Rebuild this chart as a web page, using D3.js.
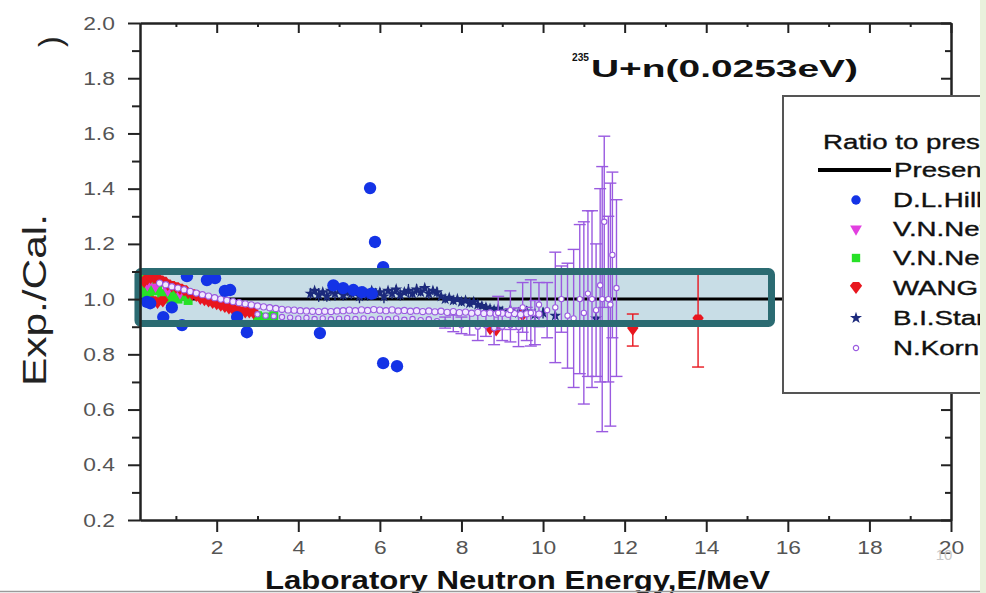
<!DOCTYPE html>
<html>
<head>
<meta charset="utf-8">
<script src="https://cdn.jsdelivr.net/npm/d3@7"></script>
<style>
  body { margin: 0; background: #fff; }
  svg { display: block; font-family: "Liberation Sans", Arial, sans-serif; }
</style>
</head>
<body>
<div class="chart-container"></div>
<script>
// ---- data ----
const xMajor = [2, 4, 6, 8, 10, 12, 14, 16, 18, 20];
const xMinor = [1, 3, 5, 7, 9, 11, 13, 15, 17, 19];
const yMajor = [0.2, 0.4, 0.6, 0.8, 1.0, 1.2, 1.4, 1.6, 1.8, 2.0];
const yMinor = [0.3, 0.5, 0.7, 0.9, 1.1, 1.3, 1.5, 1.7, 1.9];

const legendNames = ["D.L.Hill", "V.N.Nefedov", "V.N.Nesterov", "WANG Fucheng", "B.I.Starostov", "N.Kornilov"];

// Present work (ratio 1)
const presentE = [0.12, 20];
const presentR = [1.0, 1.0];

// D.L.Hill
const hillE = [0.29, 0.37, 0.69, 0.9, 1.15, 1.27, 1.76, 1.96, 2.2, 2.33, 2.5, 2.74, 4.53, 4.86, 5.1, 5.35, 5.56, 5.76, 5.8, 5.88, 6.08, 6.08, 6.42];
const hillR = [0.99, 0.985, 0.935, 0.97, 0.906, 1.083, 1.069, 1.076, 1.03, 1.033, 0.935, 0.88, 0.877, 1.05, 1.04, 1.033, 1.025, 1.402, 1.02, 1.207, 1.116, 0.768, 0.757];

// V.N.Nefedov
const nefE = [0.3, 0.5, 0.8, 1.1, 1.6, 2.2, 2.8];
const nefR = [1.05, 1.045, 1.03, 1.02, 1.0, 0.98, 0.96];

// V.N.Nesterov
const nesE = [0.13, 0.16, 0.2, 0.25, 0.3, 0.35, 0.4, 0.45, 0.55, 0.65, 0.75, 0.85, 0.95, 1.05, 1.15, 1.3, 3.0, 3.2, 3.4];
const nesR = [1.07, 1.04, 1.08, 1.02, 1.06, 1.0, 1.05, 1.03, 1.04, 1.02, 1.01, 1.0, 1.02, 1.0, 1.01, 0.995, 0.94, 0.935, 0.94];

// WANG Fucheng
const wangE = [0.22, 0.3, 0.38, 0.46, 0.54, 0.62, 0.7, 0.8, 0.9, 1.0, 1.1, 1.2, 1.3, 1.4, 1.5, 1.6, 1.7, 1.8, 1.9, 2.0, 2.1, 2.2, 2.3, 2.4, 2.5, 2.6, 2.7, 2.8, 2.9, 0.45, 0.55, 0.68, 8.7, 8.85, 9.5, 12.2, 13.8];
const wangR = [1.06, 1.07, 1.075, 1.075, 1.07, 1.065, 1.06, 1.05, 1.045, 1.04, 1.035, 1.03, 1.02, 1.015, 1.01, 1.0, 0.995, 0.99, 0.985, 0.98, 0.975, 0.97, 0.965, 0.96, 0.955, 0.953, 0.95, 0.95, 0.948, 0.99, 0.985, 0.99, 0.89, 0.885, 0.94, 0.888, 0.924];
const wangErr = [0, 0, 0, 0, 0, 0, 0, 0, 0, 0, 0, 0, 0, 0, 0, 0, 0, 0, 0, 0, 0, 0, 0, 0, 0, 0, 0, 0, 0, 0, 0, 0, 0, 0, 0, 0.058, 0.17];

// B.I.Starostov
const staE = [4.3, 4.4, 4.5, 4.6, 4.7, 4.8, 4.9, 5.0, 5.1, 5.2, 5.3, 5.4, 5.5, 5.6, 5.7, 5.8, 5.9, 6.0, 6.1, 6.2, 6.3, 6.4, 6.5, 6.6, 6.7, 6.8, 6.9, 7.0, 7.1, 7.2, 7.3, 7.4, 7.5, 7.6, 7.7, 7.8, 7.9, 8.0, 8.1, 8.2, 8.3, 8.4, 8.5, 8.6, 8.7, 8.8, 8.9, 9.0, 9.2, 9.4, 9.6, 9.8, 10.0, 10.3, 11.3];
const staR = [1.02, 1.03, 1.015, 1.025, 1.01, 1.03, 1.02, 1.035, 1.015, 1.025, 1.02, 1.03, 1.01, 1.025, 1.015, 1.03, 1.02, 1.025, 1.01, 1.03, 1.02, 1.035, 1.015, 1.025, 1.03, 1.02, 1.035, 1.025, 1.04, 1.02, 1.03, 1.025, 1.01, 1.0, 1.005, 0.995, 1.0, 0.99, 0.995, 0.985, 0.99, 0.98, 0.975, 0.97, 0.965, 0.96, 0.965, 0.955, 0.96, 0.95, 0.955, 0.945, 0.95, 0.94, 0.93];
const staErr = [0.02, 0.01, 0.025, 0.01, 0.02, 0.015, 0.025, 0.01, 0.02, 0.015, 0.02, 0.01, 0.025, 0.015, 0.02, 0.01, 0.02, 0.015, 0.025, 0.01, 0.02, 0.015, 0.02, 0.01, 0.025, 0.015, 0.02, 0.015, 0.01, 0.02, 0.015, 0.02, 0.01, 0.015, 0.01, 0.015, 0.01, 0.015, 0.01, 0.015, 0.01, 0.015, 0.01, 0.015, 0.01, 0.015, 0.01, 0.015, 0.02, 0.02, 0.02, 0.02, 0.02, 0.02, 0.02];

// N.Kornilov (main band, lower band, high-energy points with errors)
const kornE = [0.6, 0.75, 0.9, 1.05, 1.2, 1.35, 1.5, 1.65, 1.8, 1.95, 2.1, 2.25, 2.4, 2.55, 2.7, 2.85, 3.0, 3.15, 3.3, 3.45, 3.6, 3.75, 3.9, 4.05, 4.2, 4.35, 4.5, 4.65, 4.8, 4.95, 5.1, 5.25, 5.4, 5.55, 5.7, 5.85, 6.0, 6.15, 6.3, 6.45, 6.6, 6.75, 6.9, 7.05, 7.2, 7.35, 7.5, 7.65, 7.8, 7.95, 8.1, 8.25, 8.4, 8.55, 8.7, 8.85, 9.0, 9.15, 9.3, 9.45, 9.6, 9.75, 9.9];
const kornR = [1.058, 1.052, 1.045, 1.04, 1.034, 1.028, 1.022, 1.016, 1.011, 1.005, 1.0, 0.996, 0.991, 0.987, 0.983, 0.979, 0.975, 0.972, 0.969, 0.966, 0.963, 0.961, 0.96, 0.958, 0.957, 0.956, 0.955, 0.956, 0.955, 0.957, 0.958, 0.96, 0.958, 0.961, 0.959, 0.962, 0.96, 0.958, 0.961, 0.957, 0.959, 0.956, 0.958, 0.955, 0.957, 0.954, 0.956, 0.952, 0.955, 0.951, 0.953, 0.949, 0.952, 0.948, 0.95, 0.946, 0.949, 0.945, 0.948, 0.944, 0.947, 0.95, 0.946];
const korn2E = [3.0, 3.2, 3.4, 3.6, 3.8, 4.0, 4.2, 4.4, 4.6, 4.8, 5.0, 5.2, 5.4, 5.6, 5.8, 6.0, 6.2, 6.4, 6.6, 6.8, 7.0, 7.2, 7.4, 7.6, 7.8, 8.0, 8.2, 8.4, 8.6, 8.8, 9.0, 9.2, 9.4, 9.6, 9.8];
const korn2R = [0.945, 0.94, 0.938, 0.935, 0.933, 0.93, 0.932, 0.928, 0.93, 0.927, 0.929, 0.931, 0.928, 0.93, 0.926, 0.929, 0.927, 0.93, 0.925, 0.928, 0.924, 0.927, 0.92, 0.915, 0.912, 0.905, 0.91, 0.9, 0.905, 0.895, 0.9, 0.905, 0.898, 0.91, 0.915];
const korn2Err = [0, 0, 0, 0, 0, 0, 0, 0, 0, 0, 0, 0, 0, 0, 0, 0, 0, 0, 0, 0, 0, 0, 0, 0.02, 0.03, 0.03, 0.04, 0.05, 0.04, 0.06, 0.05, 0.06, 0.07, 0.06, 0.08];
const kornHiE = [8.9, 9.2, 9.5, 9.7, 9.9, 10.1, 10.3, 10.45, 10.6, 10.75, 10.9, 11.0, 11.1, 11.2, 11.3, 11.4, 11.45, 11.5, 11.6, 11.65, 11.7, 11.8];
const kornHiR = [0.95, 0.96, 0.97, 0.95, 0.98, 0.96, 0.97, 1.0, 0.94, 0.93, 1.0, 0.95, 1.02, 1.0, 0.96, 1.05, 1.0, 1.28, 1.0, 0.98, 1.16, 1.04];
const kornHiErr = [0.06, 0.07, 0.09, 0.12, 0.08, 0.1, 0.2, 0.12, 0.19, 0.25, 0.27, 0.33, 0.3, 0.32, 0.24, 0.35, 0.48, 0.31, 0.3, 0.44, 0.3, 0.32];

// highlight box drawn on the slide (energy / ratio bounds)
const boxE = [0.07, 15.6];
const boxR = [0.912, 1.1];

// ---- drawing ----
const W = 986, H = 593;
const svg = d3.select(".chart-container").append("svg")
    .attr("width", W).attr("height", H);

svg.append("rect").attr("width", W).attr("height", H).attr("fill", "#fff");

const xScale = d3.scaleLinear().domain([0.12, 20]).range([140, 951]);
const yScale = d3.scaleLinear().domain([0.2, 2.0]).range([520, 23]);

const zip = (e, r, err) => e.map((d, i) => ({e: d, r: r[i], err: err ? err[i] : 0}));

const colors = {
    hill: "#1433e6", nef: "#e23fe0", nes: "#27e127",
    wang: "#e8161e", sta: "#1c2a7c", korn: "#9a5ae0"
};

// highlight box fill (behind data)
svg.append("rect")
    .attr("x", xScale(boxE[0])).attr("y", yScale(boxR[1]))
    .attr("width", xScale(boxE[1]) - xScale(boxE[0]))
    .attr("height", yScale(boxR[0]) - yScale(boxR[1]))
    .attr("fill", "#c8dde6");

// present work line
svg.append("line")
    .attr("x1", xScale(presentE[0])).attr("x2", xScale(presentE[1]))
    .attr("y1", yScale(presentR[0])).attr("y2", yScale(presentR[1]))
    .attr("stroke", "#000").attr("stroke-width", 3);

function errorBars(data, color, cap) {
    const g = svg.append("g").attr("stroke", color).attr("stroke-width", 1.4);
    const d2 = data.filter(d => d.err > 0);
    g.selectAll(".v").data(d2).enter().append("line")
        .attr("x1", d => xScale(d.e)).attr("x2", d => xScale(d.e))
        .attr("y1", d => yScale(d.r + d.err)).attr("y2", d => yScale(d.r - d.err));
    [1, -1].forEach(s => {
        g.selectAll(".c" + s).data(d2).enter().append("line")
            .attr("x1", d => xScale(d.e) - cap).attr("x2", d => xScale(d.e) + cap)
            .attr("y1", d => yScale(d.r + s * d.err)).attr("y2", d => yScale(d.r + s * d.err));
    });
}

const gem = {
    draw(ctx, size) {
        const s = Math.sqrt(size) / 2;
        ctx.moveTo(-s, -s * 0.35);
        ctx.lineTo(-s * 0.5, -s);
        ctx.lineTo(s * 0.5, -s);
        ctx.lineTo(s, -s * 0.35);
        ctx.lineTo(0, s);
        ctx.closePath();
    }
};

function markers(data, type, size, fill, stroke, rot) {
    svg.append("g").selectAll("path").data(data).enter().append("path")
        .attr("d", d3.symbol().type(type).size(size))
        .attr("transform", d => `translate(${xScale(d.e)},${yScale(d.r)})` + (rot ? ` rotate(${rot})` : ""))
        .attr("fill", fill)
        .attr("stroke", stroke || "none")
        .attr("stroke-width", stroke ? 1.1 : 0);
}

const nes = zip(nesE, nesR);
const nef = zip(nefE, nefR);
const wang = zip(wangE, wangR, wangErr);
const sta = zip(staE, staR, staErr);
const korn = zip(kornE, kornR);
const korn2 = zip(korn2E, korn2R, korn2Err);
const kornHi = zip(kornHiE, kornHiR, kornHiErr);
const hill = zip(hillE, hillR);

markers(nes, d3.symbolSquare, 80, colors.nes);
markers(nef, d3.symbolTriangle, 50, colors.nef, null, 180);
errorBars(wang, colors.wang, 6);
markers(wang, gem, 130, colors.wang);
errorBars(sta, colors.sta, 0);
markers(sta, d3.symbolStar, 45, colors.sta);
errorBars(korn2, colors.korn, 6);
errorBars(kornHi, colors.korn, 6);
markers(korn, d3.symbolCircle, 30, "#f1e9ff", colors.korn);
markers(korn2, d3.symbolCircle, 22, "#e8dcff", colors.korn);
markers(kornHi, d3.symbolCircle, 22, "#fff", colors.korn);
markers(hill, d3.symbolCircle, 120, colors.hill);

// highlight box border (on top)
svg.append("rect")
    .attr("x", xScale(boxE[0])).attr("y", yScale(boxR[1]))
    .attr("width", xScale(boxE[1]) - xScale(boxE[0]))
    .attr("height", yScale(boxR[0]) - yScale(boxR[1]))
    .attr("rx", 3)
    .attr("fill", "none").attr("stroke", "#2b6b72").attr("stroke-width", 7);

// ---- axes ----
function styleAxis(g, labels) {
    g.select(".domain").attr("stroke", "#222").attr("stroke-width", 2);
    g.selectAll(".tick line").attr("stroke", "#222").attr("stroke-width", 2);
    g.selectAll("text")
        .attr("fill", labels ? "#555" : "none")
        .style("font-size", "19px")
        .style("font-family", "Liberation Sans, Arial, sans-serif")
        .attr("transform", "scale(1.2,1)");
}

const axBottom = svg.append("g").attr("transform", "translate(0,520)");
axBottom.call(d3.axisBottom(xScale).tickValues(xMajor).tickSize(12).tickSizeOuter(0).tickPadding(9).tickFormat(d3.format("d")));
styleAxis(axBottom, true);
const axBottomMinor = svg.append("g").attr("transform", "translate(0,520)");
axBottomMinor.call(d3.axisBottom(xScale).tickValues(xMinor).tickSize(-4).tickSizeOuter(0).tickFormat(""));
styleAxis(axBottomMinor, false);

const axTop = svg.append("g").attr("transform", "translate(0,23)");
axTop.call(d3.axisTop(xScale).tickValues(xMajor).tickSize(-10).tickSizeOuter(0).tickFormat(""));
styleAxis(axTop, false);
const axTopMinor = svg.append("g").attr("transform", "translate(0,23)");
axTopMinor.call(d3.axisTop(xScale).tickValues(xMinor).tickSize(-4).tickSizeOuter(0).tickFormat(""));
styleAxis(axTopMinor, false);

const axLeft = svg.append("g").attr("transform", "translate(140,0)");
axLeft.call(d3.axisLeft(yScale).tickValues(yMajor).tickSize(12).tickSizeOuter(0).tickPadding(9).tickFormat(d3.format(".1f")));
styleAxis(axLeft, true);
const axLeftMinor = svg.append("g").attr("transform", "translate(140,0)");
axLeftMinor.call(d3.axisLeft(yScale).tickValues(yMinor).tickSize(8).tickSizeOuter(0).tickFormat(""));
styleAxis(axLeftMinor, false);

const axRight = svg.append("g").attr("transform", "translate(951,0)");
axRight.call(d3.axisRight(yScale).tickValues(yMajor).tickSize(-10).tickSizeOuter(0).tickFormat(""));
styleAxis(axRight, false);
const axRightMinor = svg.append("g").attr("transform", "translate(951,0)");
axRightMinor.call(d3.axisRight(yScale).tickValues(yMinor).tickSize(-6).tickSizeOuter(0).tickFormat(""));
styleAxis(axRightMinor, false);

// axis titles
svg.append("text")
    .attr("x", 265).attr("y", 589)
    .attr("textLength", 505).attr("lengthAdjust", "spacingAndGlyphs")
    .style("font-size", "25px").style("font-weight", "bold").attr("fill", "#111")
    .text("Laboratory Neutron Energy,E/MeV");

svg.append("text")
    .attr("transform", "translate(46,300) rotate(-90)")
    .attr("text-anchor", "middle")
    .attr("textLength", 172).attr("lengthAdjust", "spacingAndGlyphs")
    .style("font-size", "33px").attr("fill", "#222")
    .text("Exp./Cal.");

// stray closing bracket left over from a longer rotated label
svg.append("text")
    .attr("transform", "translate(61,47) rotate(-90)")
    .style("font-size", "32px").attr("fill", "#222")
    .text(")");

// title
svg.append("text")
    .attr("x", 572).attr("y", 61)
    .attr("textLength", 17).attr("lengthAdjust", "spacingAndGlyphs")
    .style("font-size", "11px").style("font-weight", "bold").attr("fill", "#111")
    .text("235");
svg.append("text")
    .attr("x", 591).attr("y", 77)
    .attr("textLength", 267).attr("lengthAdjust", "spacingAndGlyphs")
    .style("font-size", "24px").style("font-weight", "bold").attr("fill", "#111")
    .text("U+n(0.0253eV)");

// ---- legend ----
svg.append("rect")
    .attr("x", 783).attr("y", 96).attr("width", 260).attr("height", 297)
    .attr("fill", "#fff").attr("stroke", "#555").attr("stroke-width", 2);

function legendText(x, y, str) {
    svg.append("text")
        .attr("transform", `translate(${x},${y}) scale(1.42,1)`)
        .attr("dy", "0.36em")
        .style("font-size", "19.5px").attr("fill", "#111")
        .attr("stroke", "#111").attr("stroke-width", 0.35)
        .text(str);
}

legendText(823, 142, "Ratio to present evaluation");
svg.append("line").attr("x1", 818).attr("x2", 891).attr("y1", 170).attr("y2", 170)
    .attr("stroke", "#000").attr("stroke-width", 4);
legendText(894, 170, "Present work");

const legendY = [200, 229, 258, 288, 318, 348];
const legendSym = [
    {type: d3.symbolCircle, size: 70, fill: colors.hill},
    {type: d3.symbolTriangle, size: 60, fill: colors.nef, rot: 180},
    {type: d3.symbolSquare, size: 70, fill: colors.nes},
    {type: gem, size: 150, fill: colors.wang},
    {type: d3.symbolStar, size: 45, fill: colors.sta},
    {type: d3.symbolCircle, size: 22, fill: "#fff", stroke: colors.korn}
];
legendNames.forEach((name, i) => {
    const s = legendSym[i];
    svg.append("path")
        .attr("d", d3.symbol().type(s.type).size(s.size))
        .attr("transform", `translate(856,${legendY[i]})` + (s.rot ? ` rotate(${s.rot})` : ""))
        .attr("fill", s.fill).attr("stroke", s.stroke || "none").attr("stroke-width", 1.2);
    legendText(893, legendY[i], name);
});

// slide frame bits: green right band, bottom rule, faint slide number
svg.append("rect").attr("x", 980).attr("y", 0).attr("width", 6).attr("height", H).attr("fill", "#e9f1dc");
svg.append("line").attr("x1", 0).attr("x2", 980).attr("y1", 591.5).attr("y2", 591.5)
    .attr("stroke", "#9a9a9a").attr("stroke-width", 1.5);
svg.append("text")
    .attr("x", 944).attr("y", 560).attr("text-anchor", "middle")
    .style("font-size", "15px").attr("fill", "#c8c8c8")
    .text("10");
</script>
</body>
</html>
